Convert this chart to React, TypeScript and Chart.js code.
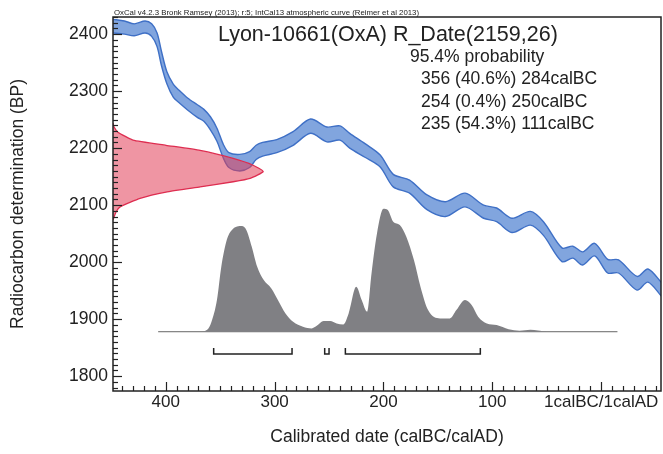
import React, { useEffect, useRef } from 'react';
import { Chart, registerables } from 'chart.js';

Chart.register(...registerables);

const FONT = '"Liberation Sans", Arial, Helvetica, sans-serif';

// Calendar years (AD, BC negative) for the IntCal13 curve band
const curveYears = [-449, -438, -429, -419, -413, -408, -404, -399, -393, -388, -380, -371, -365, -359, -353, -347, -342, -332, -323, -317, -311, -298, -283, -267, -252, -240, -231, -217, -203, -191, -176, -160, -143, -125, -108, -96, -82, -65, -53, -36, -26, -17, -6, 6, 16, 33, 43, 56];
const curveUpper = [2426, 2423, 2418, 2423, 2418, 2402, 2370, 2334, 2312, 2302, 2288, 2276, 2268, 2255, 2235, 2206, 2192, 2189, 2194, 2205, 2210, 2215, 2229, 2251, 2237, 2239, 2226, 2208, 2188, 2154, 2144, 2118, 2106, 2121, 2100, 2095, 2077, 2089, 2071, 2025, 2028, 2018, 2033, 2005, 2004, 1975, 1988, 1963];
const curveLower = [2402, 2400, 2397, 2402, 2396, 2378, 2345, 2313, 2289, 2280, 2267, 2254, 2247, 2232, 2212, 2182, 2166, 2160, 2166, 2180, 2186, 2192, 2205, 2226, 2211, 2214, 2200, 2184, 2167, 2132, 2121, 2092, 2080, 2097, 2077, 2071, 2052, 2065, 2047, 2001, 2007, 1995, 2011, 1981, 1981, 1951, 1965, 1939];

// Radiocarbon measurement distribution R_Date(2159,26)
const dateBP = [2244, 2237, 2228, 2214, 2205, 2196, 2182, 2170, 2159, 2147, 2141, 2132, 2123, 2112, 2097, 2088, 2074];
const dateDensity = [0, 0.007, 0.033, 0.133, 0.353, 0.58, 0.8, 0.933, 1, 0.913, 0.8, 0.58, 0.353, 0.18, 0.047, 0.02, 0];

// Calibrated probability distribution
const postYears = [-407, -370, -362, -358, -353, -349, -344, -339, -330, -326, -321, -316, -310, -303, -297, -290, -283, -274, -266, -261, -255, -249, -243, -237, -232, -225, -220, -215, -211, -206, -200, -196, -191, -185, -179, -172, -166, -159, -148, -139, -133, -125, -119, -113, -105, -96, -85, -75, -65, -58, -50, 15];
const postDensity = [0, 0, 0.016, 0.081, 0.258, 0.528, 0.745, 0.829, 0.859, 0.827, 0.691, 0.528, 0.42, 0.352, 0.258, 0.149, 0.081, 0.041, 0.027, 0.05, 0.087, 0.087, 0.067, 0.059, 0.149, 0.366, 0.258, 0.163, 0.472, 0.797, 1.0, 0.989, 0.894, 0.867, 0.772, 0.583, 0.366, 0.176, 0.108, 0.108, 0.176, 0.258, 0.217, 0.122, 0.067, 0.054, 0.02, 0.008, 0.016, 0.01, 0, 0];

// 95.4% ranges (calBC as negative years)
const rangeStarts = [-356, -254, -235];
const rangeEnds = [-284, -250, -111];

// Axis tick values
const xTickValues = [-400, -300, -200, -100, 0];
const yTickValues = [1800, 1900, 2000, 2100, 2200, 2300, 2400];

const headerText = 'OxCal v4.2.3 Bronk Ramsey (2013); r:5; IntCal13 atmospheric curve (Reimer et al 2013)';
const titleText = 'Lyon-10661(OxA) R_Date(2159,26)';
const probHeading = '95.4% probability';
const probLines = ['356 (40.6%) 284calBC', '254 (0.4%) 250calBC', '235 (54.3%) 111calBC'];

const X_MIN = -448.5;
const X_MAX = 55;
const Y_MIN = 1774;
const Y_MAX = 2430;
const DATE_SPAN = 138; // years of width for the peak of the measured distribution
const BRACKET_LEVEL = -0.181;
const BRACKET_TICK = -0.133;

const overlayPlugin = {
  id: 'oxcalOverlay',
  afterDatasetsDraw(chart: any) {
    const { ctx, chartArea: a, scales } = chart;
    const xs = scales.x;
    const ys = scales.y;
    ctx.save();
    ctx.strokeStyle = '#222';
    ctx.lineWidth = 1.2;
    for (let v = Math.ceil(xs.min / 10) * 10; v <= xs.max; v += 10) {
      const px = Math.round(xs.getPixelForValue(v)) + 0.5;
      const len = v % 100 === 0 ? 9 : 5;
      ctx.beginPath();
      ctx.moveTo(px, a.bottom);
      ctx.lineTo(px, a.bottom - len);
      ctx.stroke();
    }
    for (let v = Math.ceil(ys.min / 10) * 10; v <= ys.max; v += 10) {
      const py = Math.round(ys.getPixelForValue(v)) + 0.5;
      const len = v % 100 === 0 ? 9 : 5;
      ctx.beginPath();
      ctx.moveTo(a.left, py);
      ctx.lineTo(a.left + len, py);
      ctx.stroke();
    }
    ctx.lineWidth = 1.5;
    ctx.strokeRect(a.left, a.top, a.right - a.left, a.bottom - a.top);

    ctx.fillStyle = '#222';
    ctx.textBaseline = 'alphabetic';
    ctx.textAlign = 'left';
    ctx.font = `8px ${FONT}`;
    ctx.fillText(headerText, a.left + 1, a.top - 2, 305);
    ctx.font = `21.5px ${FONT}`;
    ctx.fillText(titleText, 218, 41);
    ctx.font = `17.5px ${FONT}`;
    ctx.fillText(probHeading, 410, 62);
    probLines.forEach((t, i) => ctx.fillText(t, 421, 84 + i * 22.5));
    ctx.restore();
  },
};

export default function App() {
  const ref = useRef<HTMLCanvasElement>(null);
  useEffect(() => {
    const blueFill = 'rgba(112, 152, 218, 0.88)';
    const blueLine = '#3f70c6';
    const datasets: any[] = [];
    rangeStarts.forEach((s, i) => {
      const e = rangeEnds[i];
      datasets.push({
        data: [
          { x: s, y: BRACKET_TICK },
          { x: s, y: BRACKET_LEVEL },
          { x: e, y: BRACKET_LEVEL },
          { x: e, y: BRACKET_TICK },
        ],
        yAxisID: 'y2',
        borderColor: '#222',
        borderWidth: 1.5,
        pointRadius: 0,
        fill: false,
        tension: 0,
      });
    });
    datasets.push({
      data: dateBP.map((bp, i) => ({ x: X_MIN + dateDensity[i] * DATE_SPAN, y: bp })),
      yAxisID: 'y',
      borderColor: 'rgb(222, 45, 80)',
      borderWidth: 1.3,
      backgroundColor: 'rgba(226, 62, 88, 0.55)',
      pointRadius: 0,
      fill: 'shape',
      tension: 0.15,
    });
    const upperIndex = datasets.length;
    datasets.push({
      data: curveYears.map((yr, i) => ({ x: yr, y: curveUpper[i] })),
      yAxisID: 'y',
      borderColor: blueLine,
      borderWidth: 1.4,
      pointRadius: 0,
      fill: false,
      tension: 0.3,
    });
    datasets.push({
      data: curveYears.map((yr, i) => ({ x: yr, y: curveLower[i] })),
      yAxisID: 'y',
      borderColor: blueLine,
      borderWidth: 1.4,
      backgroundColor: blueFill,
      pointRadius: 0,
      fill: upperIndex,
      tension: 0.3,
    });
    datasets.push({
      data: postYears.map((yr, i) => ({ x: yr, y: postDensity[i] })),
      yAxisID: 'y2',
      borderColor: 'rgba(0,0,0,0)',
      borderWidth: 0,
      backgroundColor: 'rgb(128, 128, 132)',
      pointRadius: 0,
      fill: 'origin',
      cubicInterpolationMode: 'monotone',
    });
    datasets.push({
      data: [
        { x: postYears[0], y: 0 },
        { x: postYears[postYears.length - 1], y: 0 },
      ],
      yAxisID: 'y2',
      borderColor: '#666',
      borderWidth: 1,
      pointRadius: 0,
      fill: false,
    });

    const chart = new Chart(ref.current as HTMLCanvasElement, {
      type: 'line',
      data: { datasets },
      options: {
        responsive: false,
        animation: false,
        layout: { padding: { top: 17, right: 2, left: 0, bottom: 0 } },
        plugins: { legend: { display: false }, tooltip: { enabled: false } },
        scales: {
          x: {
            type: 'linear',
            min: X_MIN,
            max: X_MAX,
            grid: { display: false, drawTicks: false },
            border: { display: false },
            afterBuildTicks: (s: any) => {
              s.ticks = xTickValues.map((v) => ({ value: v }));
            },
            ticks: {
              autoSkip: false,
              maxRotation: 0,
              padding: 1,
              color: '#222',
              font: { family: FONT, size: 17 },
              callback: (v: any) => {
                const n = Number(v);
                if (n === 0) return '1calBC/1calAD';
                return String(Math.abs(n));
              },
            },
            title: {
              display: true,
              text: 'Calibrated date (calBC/calAD)',
              color: '#222',
              font: { family: FONT, size: 17.5 },
              padding: { top: 0, bottom: 6 },
            },
            afterFit: (s: any) => {
              s.height = 63;
            },
          },
          y: {
            type: 'linear',
            min: Y_MIN,
            max: Y_MAX,
            grid: { display: false, drawTicks: false },
            border: { display: false },
            afterBuildTicks: (s: any) => {
              s.ticks = yTickValues.map((v) => ({ value: v }));
            },
            ticks: {
              autoSkip: false,
              padding: 5,
              color: '#222',
              font: { family: FONT, size: 17.5 },
              callback: (v: any) => String(v),
            },
            title: {
              display: true,
              text: 'Radiocarbon determination (BP)',
              color: '#222',
              font: { family: FONT, size: 17.5 },
              padding: { top: 8, bottom: 0 },
            },
            afterFit: (s: any) => {
              s.width = 113;
            },
          },
          y2: {
            type: 'linear',
            display: false,
            min: -0.482,
            max: 2.559,
          },
        },
      },
      plugins: [overlayPlugin],
    } as any);
    return () => chart.destroy();
  }, []);

  return (
    <div style={{ position: 'absolute', left: 0, top: 0, width: 663, height: 454, background: '#fff' }}>
      <canvas ref={ref} width={663} height={454} style={{ display: 'block', width: 663, height: 454 }} />
    </div>
  );
}
